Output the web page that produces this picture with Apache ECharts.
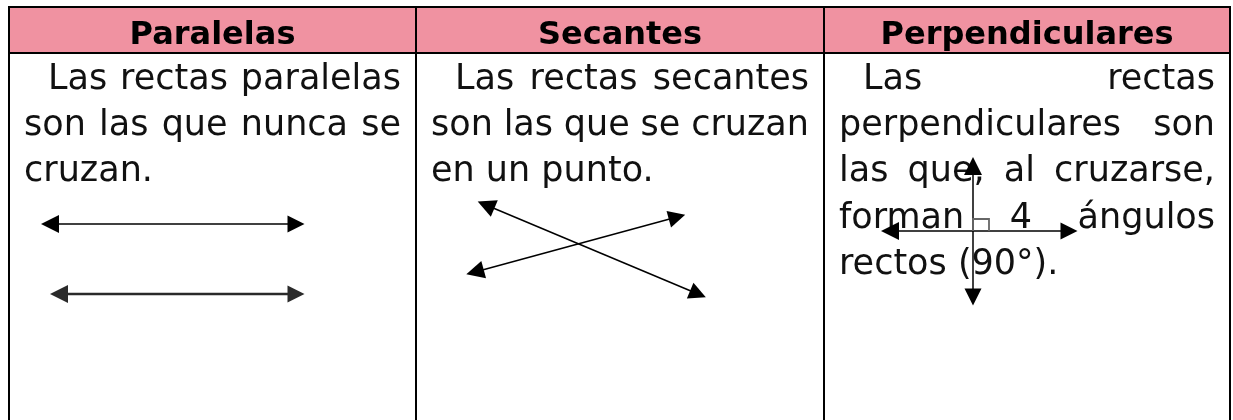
<!DOCTYPE html>
<html><head><meta charset="utf-8">
<script src="https://cdn.jsdelivr.net/npm/echarts@6/dist/echarts.min.js"></script>
<style>html,body{margin:0;padding:0;background:#fff}#c{width:1233px;height:420px}</style>
</head><body><div id="c"></div>
<script>
// ---- data ----
const categories = ['Paralelas', 'Secantes', 'Perpendiculares'];
const descParalelas = ['Las rectas paralelas', 'son las que nunca se', 'cruzan.'];
const descSecantes = ['Las rectas secantes', 'son las que se cruzan', 'en un punto.'];
const descPerpendiculares = ['Las rectas', 'perpendiculares son', 'las que, al cruzarse,', 'forman 4 ángulos', 'rectos (90°).'];
// arrow segments [x1, y1, x2, y2] in table units
const paralelasArrows = [[50, 224, 296, 224], [59, 294, 296, 294]];
const secantesArrows = [[486, 205, 698, 294], [475, 272, 677, 217]];
const perpendicularesArrows = [[973, 166, 973, 297], [890, 231, 1069, 231]];
const rightAngleMark = [[973, 231], [973, 219], [989, 219], [989, 231]];

// ---- layout ----
const descriptions = [descParalelas, descSecantes, descPerpendiculares];
const colEdges = [9, 416, 824, 1230];
const tableTop = 7, headerBottom = 53, tableBottom = 425;
const headerMid = 35.5;
const pad = 15, indent = 24, firstMid = 80, lineStep = 46.2;
const bodyFont = '35px "DejaVu Sans"';
const headFont = 'bold 32px "DejaVu Sans"';
const ctx = document.createElement('canvas').getContext('2d');
function measure(t) { ctx.font = bodyFont; return ctx.measureText(t).width; }

function renderCell(params, api) {
  const i = api.value(0);
  const x0 = colEdges[i], x1 = colEdges[i + 1];
  const ch = [];
  const a = api.coord([x0, tableTop]), b = api.coord([x1, headerBottom]);
  ch.push({type: 'rect', shape: {x: a[0], y: a[1], width: b[0] - a[0], height: b[1] - a[1]}, style: {fill: '#F092A1'}});
  const hc = api.coord([(x0 + x1) / 2, headerMid]);
  ch.push({type: 'text', x: hc[0], y: hc[1], style: {text: categories[i], font: headFont, fill: '#000', align: 'center', verticalAlign: 'middle'}});
  const lines = descriptions[i];
  lines.forEach(function (ln, k) {
    const left = x0 + pad + (k === 0 ? indent : 0), right = x1 - pad;
    const y = firstMid + k * lineStep;
    const words = ln.split(' ');
    const justify = k < lines.length - 1 && words.length > 1;
    let gap = measure(' ');
    if (justify) {
      const total = words.reduce(function (s, w) { return s + measure(w); }, 0);
      gap = (right - left - total) / (words.length - 1);
    }
    let x = left;
    words.forEach(function (w) {
      const p = api.coord([x, y]);
      ch.push({type: 'text', x: p[0], y: p[1], z2: 1, style: {text: w, font: bodyFont, fill: '#111', align: 'left', verticalAlign: 'middle'}});
      x += measure(w) + gap;
    });
  });
  function seg(p1, p2) {
    const q1 = api.coord(p1), q2 = api.coord(p2);
    ch.push({type: 'line', z2: 5, shape: {x1: q1[0], y1: q1[1], x2: q2[0], y2: q2[1]}, style: {stroke: '#000', lineWidth: 2}});
  }
  seg([x0, tableTop], [x1, tableTop]);
  seg([x0, headerBottom], [x1, headerBottom]);
  seg([x0, tableTop - 1], [x0, tableBottom]);
  seg([x1, tableTop - 1], [x1, tableBottom]);
  return {type: 'group', children: ch};
}

function arrowData(list) {
  return list.map(function (s) { return {coords: [[s[0], s[1]], [s[2], s[3]]]}; });
}
const arrowLines = arrowData(paralelasArrows).concat(arrowData(secantesArrows), arrowData(perpendicularesArrows));
arrowLines[1].lineStyle = {color: '#2a2a2a', width: 2.4};

const chart = echarts.init(document.getElementById('c'), null, {renderer: 'canvas'});
chart.setOption({
  animation: false,
  backgroundColor: '#fff',
  grid: {left: 0, right: 0, top: 0, bottom: 0},
  xAxis: {type: 'value', min: 0, max: 1233, show: false},
  yAxis: {type: 'value', min: 0, max: 420, inverse: true, show: false},
  series: [
    {
      type: 'custom', coordinateSystem: 'cartesian2d', silent: true, clip: false, z: 1,
      encode: {x: 0, y: 1},
      data: categories.map(function (c, i) { return [i, 0]; }),
      renderItem: renderCell
    },
    {
      type: 'lines', coordinateSystem: 'cartesian2d', silent: true, z: 5,
      symbol: ['triangle', 'triangle'], symbolSize: [18, 17],
      lineStyle: {color: '#000', width: 1.5, opacity: 1},
      itemStyle: {color: '#000'},
      data: arrowLines
    },
    {
      type: 'lines', coordinateSystem: 'cartesian2d', polyline: true, silent: true, z: 6,
      symbol: 'none',
      lineStyle: {color: '#666', width: 1.8, opacity: 1},
      data: [{coords: rightAngleMark}]
    }
  ]
});
</script></body></html>
